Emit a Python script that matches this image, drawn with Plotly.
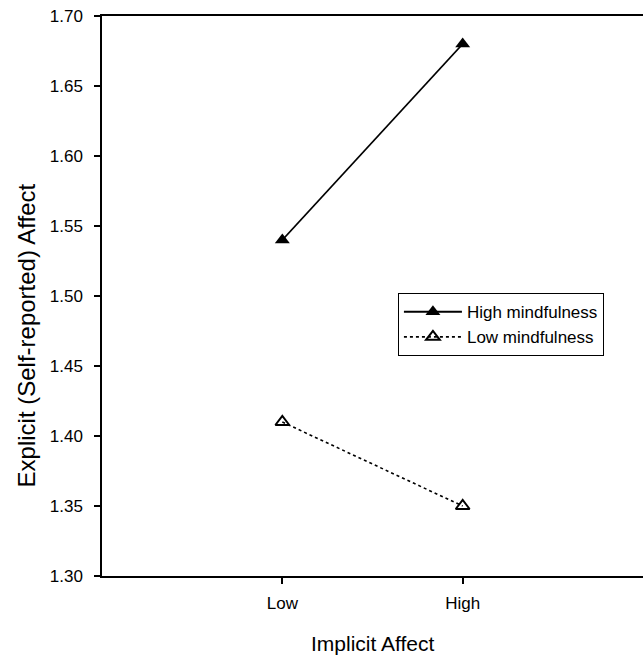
import plotly.graph_objects as go

categories = ["Low", "High"]
cat_pos = [1, 2]
high_mind = [1.54, 1.68]
low_mind = [1.41, 1.35]
y_ticks = [1.30, 1.35, 1.40, 1.45, 1.50, 1.55, 1.60, 1.65, 1.70]

font = "Liberation Sans, Arial, sans-serif"

fig = go.Figure()
fig.add_trace(go.Scatter(
    x=cat_pos, y=high_mind, mode="lines+markers", name="High mindfulness",
    line=dict(color="black", width=1.8),
    marker=dict(symbol="triangle-up", size=13, color="black"),
))
fig.add_trace(go.Scatter(
    x=cat_pos, y=low_mind, mode="lines+markers", name="Low mindfulness",
    line=dict(color="black", width=1.6, dash="dot"),
    marker=dict(symbol="triangle-up-open", size=12, color="black", line=dict(width=2)),
))

fig.update_layout(
    width=643, height=655,
    margin=dict(l=102, r=0, t=16, b=79, autoexpand=False),
    paper_bgcolor="white", plot_bgcolor="white",
    font=dict(family=font, color="black", size=17),
    showlegend=True,
    legend=dict(
        x=0.547, y=0.505, xanchor="left", yanchor="top",
        bordercolor="black", borderwidth=1, bgcolor="white",
        font=dict(size=17, family=font),
        tracegroupgap=0, itemwidth=58,
    ),
    xaxis=dict(
        range=[0, 3], tickvals=cat_pos, ticktext=categories,
        showline=True, linecolor="black", linewidth=1.5, mirror=True,
        ticks="outside", ticklen=6, tickcolor="black", tickwidth=1.5,
        showgrid=False, zeroline=False,
        tickfont=dict(size=17), ticklabeloverflow="allow",
        ticklabelstandoff=5,
    ),
    yaxis=dict(
        range=[1.30, 1.70], tickvals=y_ticks,
        ticktext=[f"{v:.2f}" for v in y_ticks],
        showline=True, linecolor="black", linewidth=1.5,
        ticks="outside", ticklen=6, tickcolor="black", tickwidth=1.5,
        showgrid=False, zeroline=False,
        tickfont=dict(size=17), ticklabeloverflow="allow",
        ticklabelstandoff=8,
    ),
    annotations=[
        dict(text="Implicit Affect", xref="paper", yref="paper",
             x=0.5, y=-0.121, xanchor="center", yanchor="middle",
             showarrow=False, font=dict(size=21, family=font)),
        dict(text="Explicit (Self-reported) Affect", xref="paper", yref="paper",
             x=-0.140, y=0.430, xanchor="center", yanchor="middle", textangle=-90,
             showarrow=False, font=dict(size=24, family=font)),
    ],
)

fig.write_html("out.html", config={"displayModeBar": False},
               post_script="document.body.style.margin='0px';")
